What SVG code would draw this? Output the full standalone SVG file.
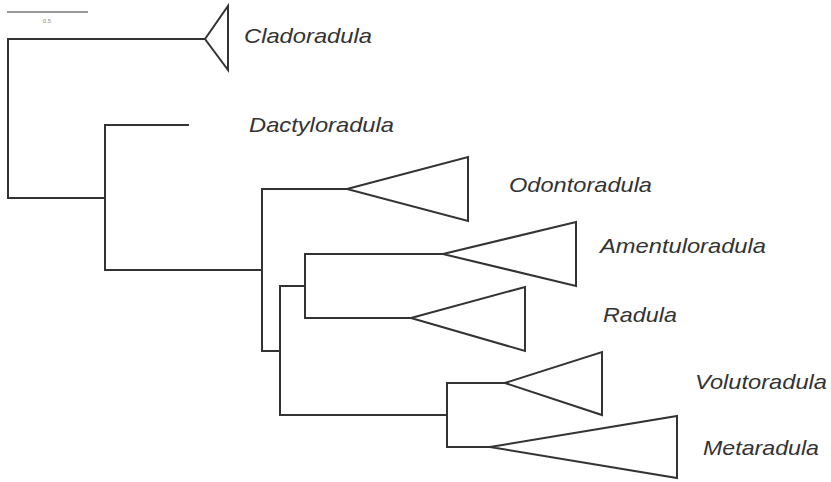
<svg xmlns="http://www.w3.org/2000/svg" width="831" height="482" viewBox="0 0 831 482">
<style>
.br{fill:none;stroke:#333;stroke-width:2;stroke-linejoin:miter;stroke-linecap:square}
.tri{fill:#fff;stroke:#333;stroke-width:2;stroke-linejoin:miter}
.lbl{font-family:"Liberation Sans",Arial,sans-serif;font-style:italic;font-size:21px;fill:#333}
</style>
<rect width="831" height="482" fill="#fff"/>
<g id="scale">
<line x1="7" y1="12" x2="88" y2="12" stroke="#999" stroke-width="2"/>
<text x="47" y="23" font-family="Liberation Sans,Arial,sans-serif" font-size="6" fill="#888" text-anchor="middle">0.5</text>
</g>
<g id="connectors">
<path class="br" d="M205,39 H8 V198 H105"/>
<path class="br" d="M188,125 H105 V270 H262"/>
<path class="br" d="M347,189 H262 V351 H280"/>
<path class="br" d="M305,286 H280 V415 H447"/>
<path class="br" d="M443,254 H305 V318 H411"/>
<path class="br" d="M505,383 H447 V447 H490"/>
</g>
<g id="Cladoradula">
<polygon class="tri" points="205,39 228,6 228,70"/>
<text class="lbl" x="244" y="43" textLength="128" lengthAdjust="spacingAndGlyphs">Cladoradula</text>
</g>
<g id="Dactyloradula">
<text class="lbl" x="249" y="132" textLength="145" lengthAdjust="spacingAndGlyphs">Dactyloradula</text>
</g>
<g id="Odontoradula">
<polygon class="tri" points="347,189 468,157 468,221"/>
<text class="lbl" x="509" y="192" textLength="143" lengthAdjust="spacingAndGlyphs">Odontoradula</text>
</g>
<g id="Amentuloradula">
<polygon class="tri" points="443,254 576,222 576,286"/>
<text class="lbl" x="600" y="253" textLength="166" lengthAdjust="spacingAndGlyphs">Amentuloradula</text>
</g>
<g id="Radula">
<polygon class="tri" points="411,318 525,287 525,351"/>
<text class="lbl" x="603" y="322" textLength="74" lengthAdjust="spacingAndGlyphs">Radula</text>
</g>
<g id="Volutoradula">
<polygon class="tri" points="505,383 602,352 602,415"/>
<text class="lbl" x="695" y="389" textLength="132" lengthAdjust="spacingAndGlyphs">Volutoradula</text>
</g>
<g id="Metaradula">
<polygon class="tri" points="490,447 677,416 677,478"/>
<text class="lbl" x="703" y="455" textLength="116" lengthAdjust="spacingAndGlyphs">Metaradula</text>
</g>
</svg>
